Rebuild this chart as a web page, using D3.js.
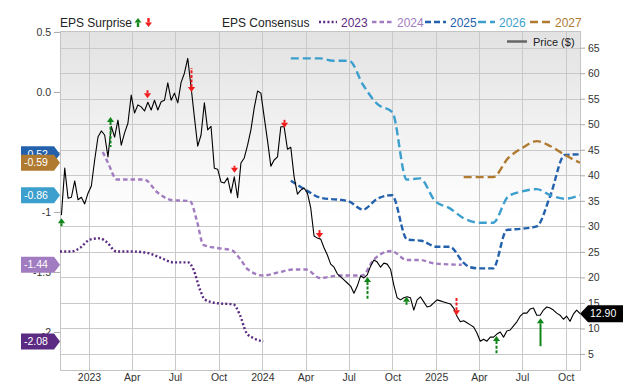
<!DOCTYPE html>
<html><head><meta charset="utf-8">
<script src="https://cdn.jsdelivr.net/npm/d3@7"></script>
<style>
body{margin:0;background:#fff}
svg{display:block;font-family:"Liberation Sans",Arial,Helvetica,sans-serif}
</style>
</head><body>
<svg id="c" width="640" height="382"></svg>
<script>
// ---------- DATA ----------
const priceStart = "2022-11-04"; // weekly closes
const priceWeekly = [
32.2,41.4,35.5,35.7,38.9,35.2,35.7,34.4,36.5,37.9,
43.0,47.5,48.7,47.9,43.6,49.6,47.5,50.8,45.9,48.3,
50.2,55.7,52.2,53.8,53.4,52.6,54.3,52.8,54.7,52.8,
54.4,54.7,58.1,54.7,56.1,54.2,58.2,60.0,62.9,57.3,
51.4,45.7,47.9,54.2,48.9,49.6,41.4,41.2,38.7,38.5,
39.5,36.5,39.7,35.6,42.4,43.4,45.9,48.9,53.2,56.5,
56.1,51.4,46.8,41.8,43.0,43.6,49.5,49.5,45.1,45.5,
39.7,36.3,37.1,37.5,36.5,33.6,28.1,27.7,27.5,25.8,
24.4,22.6,22.0,20.7,20.1,19.5,18.9,18.3,16.9,18.3,
20.3,19.9,20.5,22.2,23.4,23.0,22.0,22.8,22.6,21.6,
18.5,16.0,15.6,16.0,16.2,16.0,13.6,15.6,16.2,15.2,
14.2,14.4,15.0,15.6,15.4,15.2,15.0,14.8,14.0,12.4,
11.3,11.5,11.1,10.7,10.3,9.1,7.5,7.9,7.5,8.3,
8.3,8.9,9.3,8.3,9.5,9.7,10.5,11.3,12.4,13.0,
13.0,13.8,14.0,12.6,12.6,13.6,14.2,14.0,13.6,13.0,
12.6,11.8,12.4,11.4,12.8,13.6,12.9];
const lastPrice = "12.90";

const eps2023 = [["2022-11-01",-1.33],["2022-11-25",-1.33],["2022-12-13",-1.30],["2023-01-03",-1.23],["2023-01-24",-1.22],["2023-02-07",-1.25],["2023-02-28",-1.33],["2023-04-04",-1.33],["2023-05-03",-1.34],["2023-05-31",-1.38],["2023-06-28",-1.42],["2023-07-29",-1.42],["2023-08-09",-1.48],["2023-08-23",-1.65],["2023-09-02",-1.73],["2023-09-27",-1.76],["2023-11-01",-1.77],["2023-11-15",-1.86],["2023-11-29",-2.01],["2023-12-13",-2.05],["2024-01-03",-2.08]];
const eps2024 = [["2023-01-30",-0.50],["2023-02-10",-0.59],["2023-03-01",-0.73],["2023-04-27",-0.73],["2023-05-26",-0.84],["2023-06-23",-0.90],["2023-08-02",-0.91],["2023-08-16",-1.07],["2023-08-30",-1.275],["2023-09-27",-1.30],["2023-10-29",-1.32],["2023-11-15",-1.39],["2023-12-02",-1.48],["2024-01-03",-1.53],["2024-02-07",-1.50],["2024-03-06",-1.48],["2024-04-03",-1.48],["2024-05-01",-1.55],["2024-06-12",-1.53],["2024-07-30",-1.53],["2024-08-22",-1.40],["2024-09-29",-1.325],["2024-10-31",-1.40],["2024-11-28",-1.40],["2024-12-30",-1.43],["2025-02-24",-1.44]];
const eps2025 = [["2024-03-01",-0.74],["2024-04-03",-0.82],["2024-05-01",-0.88],["2024-06-30",-0.91],["2024-07-31",-0.98],["2024-08-30",-0.89],["2024-09-30",-0.86],["2024-11-01",-1.23],["2024-12-01",-1.24],["2025-01-02",-1.29],["2025-01-30",-1.29],["2025-02-27",-1.42],["2025-03-13",-1.46],["2025-03-31",-1.47],["2025-05-01",-1.47],["2025-05-30",-1.15],["2025-06-30",-1.14],["2025-08-01",-1.12],["2025-08-29",-0.87],["2025-09-29",-0.525],["2025-10-31",-0.52]];
const eps2026 = [["2024-03-01",0.28],["2024-05-01",0.28],["2024-05-29",0.26],["2024-07-02",0.26],["2024-07-31",0.06],["2024-08-30",-0.10],["2024-10-01",-0.17],["2024-10-31",-0.73],["2024-11-28",-0.72],["2024-12-30",-0.91],["2025-01-30",-0.97],["2025-02-27",-1.05],["2025-04-03",-1.09],["2025-05-01",-1.09],["2025-06-02",-0.87],["2025-06-30",-0.83],["2025-08-01",-0.81],["2025-08-29",-0.86],["2025-09-29",-0.89],["2025-10-31",-0.86]];
const eps2027 = [["2025-02-28",-0.71],["2025-05-01",-0.71],["2025-06-02",-0.55],["2025-06-30",-0.47],["2025-08-01",-0.41],["2025-08-29",-0.45],["2025-09-29",-0.525],["2025-10-31",-0.59]];
const seriesNames = ["2023","2024","2025","2026","2027"];
const seriesData = [eps2023, eps2024, eps2025, eps2026, eps2027];
const seriesLast = ["-2.08","-1.44","-0.52","-0.86","-0.59"];

const surpriseDates = ["2022-11-03","2023-02-15","2023-05-03","2023-08-03","2023-11-03","2024-02-16","2024-04-30","2024-08-09","2024-10-29","2025-02-12","2025-05-08","2025-08-08"];
const surpriseDir   = ["up","up","down","down","down","down","down","up","up","down","up","up"];
const surprisePrice = [31.6,51.4,55.1,56.3,40.5,49.3,27.7,20.1,16.2,12.6,8.5,12.0];
const surprisePct   = [3,24,2,18,1,2,2,17,3,12,13,22];
const surpriseKind  = ["d","d","d","d","d","d","d","d","d","d","d","s"];

// the -0.5 label sits fully under the badges in the original, so it carries no text
const epsTicks = [0.5,0.0,-0.5,-1,-1.5,-2];
const epsTickLabels = ["0.5","0.0","","-1","-1.5","-2"];
const priceTicks = [5,10,15,20,25,30,35,40,45,50,55,60,65];
const xTickDates = ["2023-01-01","2023-04-01","2023-07-01","2023-10-01","2024-01-01","2024-04-01","2024-07-01","2024-10-01","2025-01-01","2025-04-01","2025-07-01","2025-10-01"];
const xTickLabels = ["2023","Apr","Jul","Oct","2024","Apr","Jul","Oct","2025","Apr","Jul","Oct"];

// ---------- STYLE ----------
const colors = {"2023":"#5b2a82","2024":"#a27cc0","2025":"#2361ad","2026":"#3d9fcd","2027":"#b07a30"};
const dashes = {"2023":"2,2.2","2024":"4.5,3","2025":"6,3","2026":"8,4","2027":"8,4"};
const GREEN = "#11861a", RED = "#f21c1c";

const W = 640, H = 382;
const L = 60, R = 580, T = 31, B = 370;
const parse = d3.utcParse("%Y-%m-%d");
const svg = d3.select("#c");

const x = d3.scaleUtc().domain([parse("2022-11-01"), parse("2025-10-31")]).range([L, R]);
const yP = d3.scaleLinear().domain([1.86, 68.27]).range([B, T]);
const yE = d3.scaleLinear().domain([-2.317, 0.508]).range([B, T]);

// background
const defs = svg.append("defs");
const grad = defs.append("linearGradient").attr("id","bg").attr("x1",0).attr("y1",0).attr("x2",0).attr("y2",1);
grad.append("stop").attr("offset","0%").attr("stop-color","#e2e2e2");
grad.append("stop").attr("offset","55%").attr("stop-color","#ffffff");
grad.append("stop").attr("offset","100%").attr("stop-color","#ffffff");
defs.append("clipPath").attr("id","clip").append("rect").attr("x",L).attr("y",T).attr("width",R-L).attr("height",B-T);
svg.append("rect").attr("x",L).attr("y",T).attr("width",R-L).attr("height",B-T).attr("fill","url(#bg)");

// grid
const grid = svg.append("g").attr("stroke","#c9c9c9").attr("stroke-width",1).attr("shape-rendering","crispEdges");
grid.selectAll(".gx").data(xTickDates).join("line")
  .attr("x1",d=>Math.round(x(parse(d)))+0.5).attr("x2",d=>Math.round(x(parse(d)))+0.5)
  .attr("y1",T).attr("y2",B);
grid.selectAll(".gy").data(priceTicks).join("line")
  .attr("x1",L).attr("x2",R)
  .attr("y1",d=>Math.round(yP(d))+0.5).attr("y2",d=>Math.round(yP(d))+0.5);
svg.append("rect").attr("x",L+0.5).attr("y",T+0.5).attr("width",R-L).attr("height",B-T)
  .attr("fill","none").attr("stroke","#c4c4c4").attr("shape-rendering","crispEdges");

// axes
const axL = svg.append("g").attr("transform",`translate(${L},0)`)
  .call(d3.axisLeft(yE).tickValues(epsTicks).tickSize(6).tickPadding(3).tickFormat((d,i)=>epsTickLabels[i]));
const axR = svg.append("g").attr("transform",`translate(${R},0)`)
  .call(d3.axisRight(yP).tickValues(priceTicks).tickSize(5).tickPadding(3));
const axB = svg.append("g").attr("transform",`translate(0,${B})`)
  .call(d3.axisBottom(x).tickValues(xTickDates.map(parse)).tickSize(0).tickPadding(4).tickFormat((d,i)=>xTickLabels[i]));
[axL,axR,axB].forEach(a=>{
  a.select(".domain").remove();
  a.selectAll("line").attr("stroke","#aaa");
  a.selectAll("text").attr("fill","#333").style("font-size","10.5px").style("font-family","'Liberation Sans',Arial,sans-serif");
});
axL.selectAll("text").filter(function(){return this.textContent==="";}).remove();

// plot content
const plot = svg.append("g").attr("clip-path","url(#clip)");
const lineE = d3.line().x(d=>x(parse(d[0]))).y(d=>yE(d[1])).curve(d3.curveMonotoneX);
seriesNames.forEach((n,i)=>{
  plot.append("path").datum(seriesData[i]).attr("d",lineE)
    .attr("fill","none").attr("stroke",colors[n]).attr("stroke-width",2.4)
    .attr("stroke-dasharray",dashes[n]);
});
const start = parse(priceStart);
const price = priceWeekly.map((v,i)=>[d3.utcDay.offset(start,7*i),v]);
plot.append("path").datum(price)
  .attr("d",d3.line().x(d=>x(d[0])).y(d=>yP(d[1])))
  .attr("fill","none").attr("stroke","#000").attr("stroke-width",1.1).attr("stroke-linejoin","round");

// surprise arrows
const lenScale = d3.scaleLinear().domain([0,25]).range([6,31]);
function arrow(g, cx, tipY, dir, len, color, kind, hw, hh, sw){
  const s = dir==="up" ? 1 : -1;
  g.append("line").attr("x1",cx).attr("x2",cx).attr("y1",tipY+s*hh).attr("y2",tipY+s*len)
    .attr("stroke",color).attr("stroke-width",sw).attr("stroke-dasharray",kind==="d"?"3,1.6":null);
  g.append("path").attr("d",`M${cx},${tipY}L${cx-hw},${tipY+s*hh}L${cx+hw},${tipY+s*hh}Z`).attr("fill",color);
}
const arrG = svg.append("g");
surpriseDates.forEach((d,i)=>{
  const dir = surpriseDir[i];
  arrow(arrG, Math.round(x(parse(d)))+0.5, yP(surprisePrice[i]), dir, lenScale(surprisePct[i]),
        dir==="up"?GREEN:RED, surpriseKind[i], 3.6, 5, 2);
});

// price legend inside plot
svg.append("line").attr("x1",507).attr("x2",527).attr("y1",41.5).attr("y2",41.5).attr("stroke","#666").attr("stroke-width",2.5);
svg.append("text").attr("x",533).attr("y",45.5).text("Price ($)").attr("fill","#222").style("font-size","11px");

// top legend
svg.append("text").attr("x",60).attr("y",27).text("EPS Surprise").attr("fill","#222").style("font-size","12px");
const lg = svg.append("g");
arrow(lg, 138, 18, "up", 9, GREEN, "s", 3.5, 4.5, 2.4);
arrow(lg, 148.5, 27, "down", 9, RED, "s", 3.5, 4.5, 2.4);
svg.append("text").attr("x",222).attr("y",27).text("EPS Consensus").attr("fill","#222").style("font-size","12px");
const legX = [319,372,425,478,530];
const legW = [18,21,21,17,21];
seriesNames.forEach((n,i)=>{
  svg.append("line").attr("x1",legX[i]).attr("x2",legX[i]+legW[i]).attr("y1",22).attr("y2",22)
    .attr("stroke",colors[n]).attr("stroke-width",2.4).attr("stroke-dasharray",dashes[n]);
  svg.append("text").attr("x",legX[i]+legW[i]+4).attr("y",27).text(n).attr("fill",colors[n]).style("font-size","12px");
});

// left badges
seriesNames.forEach((n,i)=>{
  const data = seriesData[i];
  const yy = yE(data[data.length-1][1]);
  const g = svg.append("g");
  g.append("path").attr("d",`M21,${yy-8}L54,${yy-8}L60,${yy}L54,${yy+8}L21,${yy+8}Z`).attr("fill",colors[n]);
  g.append("text").attr("x",24).attr("y",yy+3.6).text(seriesLast[i]).attr("fill","#fff").style("font-size","10.5px");
});

// price badge
const py = yP(priceWeekly[priceWeekly.length-1]);
svg.append("path").attr("d",`M580,${py}L588,${py-8.5}L623,${py-8.5}L623,${py+8.5}L588,${py+8.5}Z`).attr("fill","#000");
svg.append("text").attr("x",590).attr("y",py+3.8).text(lastPrice).attr("fill","#fff").style("font-size","10.5px");
</script>
</body></html>
